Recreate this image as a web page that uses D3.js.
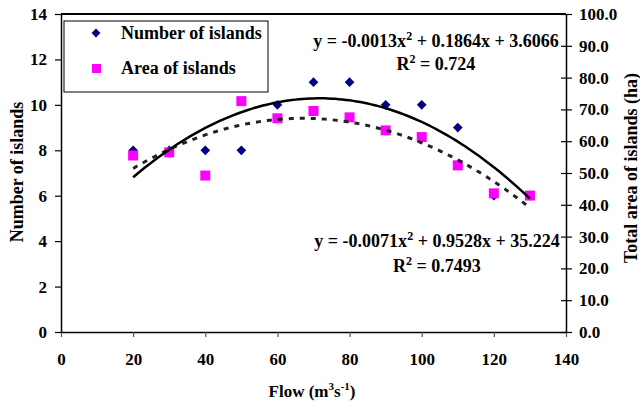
<!DOCTYPE html>
<html>
<head>
<meta charset="utf-8">
<script src="https://cdn.jsdelivr.net/npm/d3@7"></script>
<style>
  body { margin: 0; background: #fff; }
  text { font-family: "Liberation Serif", "Times New Roman", serif; font-weight: bold; fill: #000; }
</style>
</head>
<body>
<svg id="chart" width="640" height="407"></svg>
<script>
// data
var flow = [20, 30, 40, 50, 60, 70, 80, 90, 100, 110, 120, 130];
var num_islands = [8, 8, 8, 8, 10, 11, 11, 10, 10, 9, 6, 6];
var area_islands = [55.5, 56.5, 49.2, 72.6, 67.2, 69.5, 67.5, 63.4, 61.3, 52.4, 43.6, 42.9];

// trendline coefficients as printed on the chart (a, b, c for ax^2 + bx + c)
var num_fit = [-0.0013, 0.1864, 3.6066];
var area_fit = [-0.0071, 0.9528, 35.224];

var x_ticks = [0, 20, 40, 60, 80, 100, 120, 140];
var left_ticks = [0, 2, 4, 6, 8, 10, 12, 14];
var right_ticks = [0, 10, 20, 30, 40, 50, 60, 70, 80, 90, 100];

var svg_canvas = d3.select("#chart");
var x_l = 61, x_r = 566, y_t = 14, y_b = 332;

var x = d3.scaleLinear().domain([0, 140]).range([x_l, x_r]);
var y_num = d3.scaleLinear().domain([0, 14]).range([y_b, y_t]);
var y_area = d3.scaleLinear().domain([0, 100]).range([y_b, y_t]);

// top border of plot area
svg_canvas.append("line").attr("x1", x_l).attr("x2", x_r).attr("y1", y_t).attr("y2", y_t)
   .attr("stroke", "#000").attr("stroke-width", 1.2).style("shape-rendering", "crispEdges");

function style_axis(g) {
   g.select(".domain").attr("stroke", "#000").attr("stroke-width", 1.5);
   g.selectAll(".tick line").attr("stroke", "#000").attr("stroke-width", 1.2);
   g.selectAll(".tick text").style("font-size", "17px").attr("fill", "#000");
}

var x_axis = svg_canvas.append("g").attr("transform", "translate(0," + y_b + ")")
   .call(d3.axisBottom(x).tickValues(x_ticks).tickSize(5).tickSizeOuter(0).tickPadding(16));
style_axis(x_axis);
x_axis.selectAll(".tick line").attr("stroke", "#555");

var l_axis = svg_canvas.append("g").attr("transform", "translate(" + x_l + ",0)")
   .call(d3.axisLeft(y_num).tickValues(left_ticks).tickSize(6).tickSizeOuter(0).tickPadding(8));
style_axis(l_axis);

var r_axis = svg_canvas.append("g").attr("transform", "translate(" + x_r + ",0)")
   .call(d3.axisRight(y_area).tickValues(right_ticks).tickFormat(d3.format(".1f")).tickSize(6).tickSizeOuter(0).tickPadding(7));
style_axis(r_axis);
r_axis.selectAll(".tick line").attr("x1", -5);

// axis titles
svg_canvas.append("text").attr("transform", "translate(23,172) rotate(-90)")
   .attr("text-anchor", "middle").style("font-size", "18px").text("Number of islands");
svg_canvas.append("text").attr("transform", "translate(637,168) rotate(-90)")
   .attr("text-anchor", "middle").style("font-size", "18px").text("Total area of islands (ha)");
var x_title = svg_canvas.append("text").attr("x", 312).attr("y", 397)
   .attr("text-anchor", "middle").style("font-size", "17px");
x_title.append("tspan").text("Flow (m");
x_title.append("tspan").attr("dy", -7).style("font-size", "11px").text("3");
x_title.append("tspan").attr("dy", 7).text("s");
x_title.append("tspan").attr("dy", -7).style("font-size", "11px").text("-1");
x_title.append("tspan").attr("dy", 7).text(")");

// markers
var num_data = flow.map(function(d, i) { return {"x": d, "y": num_islands[i]}; });
var area_data = flow.map(function(d, i) { return {"x": d, "y": area_islands[i]}; });

svg_canvas.append("g").selectAll("path.num").data(num_data).enter().append("path")
   .attr("class", "num")
   .attr("d", d3.symbol().type(d3.symbolDiamond2).size(60))
   .attr("transform", function(d) { return "translate(" + x(d.x) + "," + y_num(d.y) + ")"; })
   .attr("fill", "#000080");

svg_canvas.append("g").selectAll("rect.area").data(area_data).enter().append("rect")
   .attr("class", "area")
   .attr("x", function(d) { return x(d.x) - 5; })
   .attr("y", function(d) { return y_area(d.y) - 5; })
   .attr("width", 10).attr("height", 10)
   .attr("fill", "#ff00ff");

// trendlines
function poly(c) { return function(v) { return c[0] * v * v + c[1] * v + c[2]; }; }
var fit_x = d3.range(20, 130.5, 1);
var f_num = poly(num_fit), f_area = poly(area_fit);

svg_canvas.append("path")
   .datum(fit_x)
   .attr("d", d3.line().x(function(d) { return x(d); }).y(function(d) { return y_area(f_area(d)); }))
   .attr("fill", "none").attr("stroke", "#222").attr("stroke-width", 3).attr("stroke-dasharray", "5 6");

svg_canvas.append("path")
   .datum(fit_x)
   .attr("d", d3.line().x(function(d) { return x(d); }).y(function(d) { return y_num(f_num(d)); }))
   .attr("fill", "none").attr("stroke", "#000").attr("stroke-width", 2.5);

// equations
function gen_equation(cx, cy, gap, coefs, r2) {
   var eq = svg_canvas.append("text").attr("x", cx).attr("y", cy).attr("text-anchor", "middle").style("font-size", "18px");
   eq.append("tspan").text("y = " + coefs[0] + "x");
   eq.append("tspan").attr("dy", -7).style("font-size", "12px").text("2");
   eq.append("tspan").attr("dy", 7).text(" + " + coefs[1] + "x + " + coefs[2]);
   var rr = svg_canvas.append("text").attr("x", cx).attr("y", cy + gap).attr("text-anchor", "middle").style("font-size", "18px");
   rr.append("tspan").text("R");
   rr.append("tspan").attr("dy", -7).style("font-size", "12px").text("2");
   rr.append("tspan").attr("dy", 7).text(" = " + r2);
}
gen_equation(436, 47, 23, num_fit, "0.724");
gen_equation(437, 247, 25, area_fit, "0.7493");

// legend
var legend = svg_canvas.append("g").attr("id", "legend");
legend.append("rect").attr("x", 64).attr("y", 21).attr("width", 204).attr("height", 71)
   .attr("fill", "#fff").attr("stroke", "#000").attr("stroke-width", 1);
legend.append("path").attr("d", d3.symbol().type(d3.symbolDiamond2).size(50))
   .attr("transform", "translate(96,33)").attr("fill", "#000080");
legend.append("rect").attr("x", 92).attr("y", 64).attr("width", 9).attr("height", 9).attr("fill", "#ff00ff");
legend.append("text").attr("x", 121).attr("y", 39).style("font-size", "18px").text("Number of islands");
legend.append("text").attr("x", 121).attr("y", 74).style("font-size", "18px").text("Area of islands");
</script>
</body>
</html>
